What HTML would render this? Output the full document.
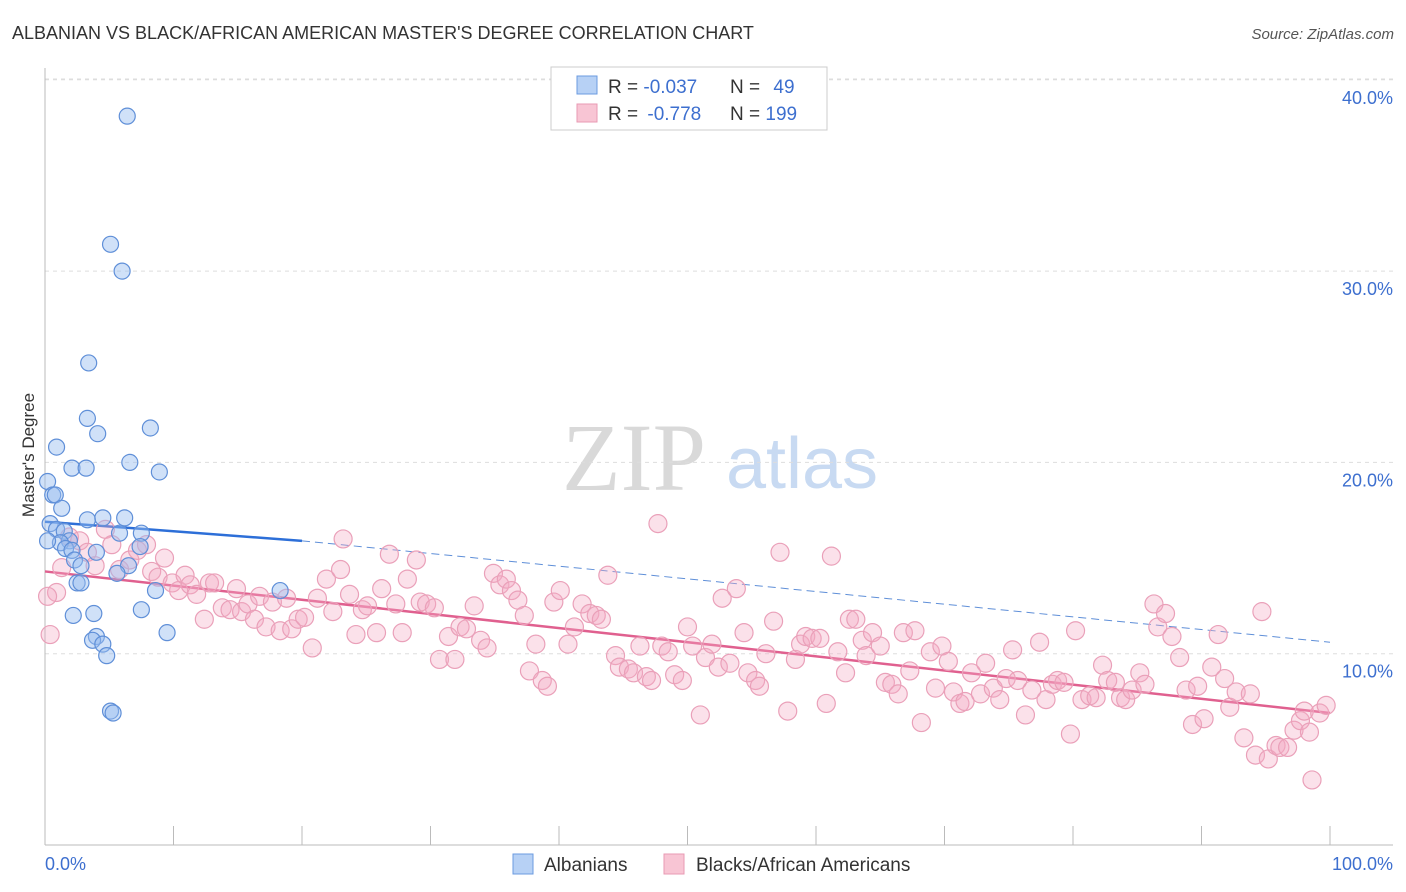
<!DOCTYPE html>
<html><head><meta charset="utf-8"><style>
body{margin:0;background:#fff;font-family:"Liberation Sans",sans-serif;}
svg{display:block}
</style></head><body>
<svg id="chart" width="1406" height="892" xmlns="http://www.w3.org/2000/svg">
<text x="12" y="39" font-size="18" fill="#333">ALBANIAN VS BLACK/AFRICAN AMERICAN MASTER'S DEGREE CORRELATION CHART</text>
<text x="1394" y="39" font-size="15" fill="#555" font-style="italic" text-anchor="end">Source: ZipAtlas.com</text>
<text x="34" y="455" font-size="17" fill="#333" text-anchor="middle" transform="rotate(-90 34 455)">Master's Degree</text>
<g>
<text x="634" y="490" font-size="96" fill="#d9d9d9" font-family="Liberation Serif,serif" text-anchor="middle">ZIP</text>
<text x="802" y="488" font-size="72" fill="#c8daf2" text-anchor="middle">atlas</text>
</g>
<g id="grid"></g>
<g id="axes"></g>
<g id="trend"></g>
<g id="pts"></g>
<g>
<rect x="551" y="67" width="276" height="63" fill="#fff" stroke="#ccc"/>
<rect x="577" y="76" width="20" height="18" fill="#b7d1f5" stroke="#6b9be0"/>
<rect x="577" y="104" width="20" height="18" fill="#f8c5d4" stroke="#e89ab3"/>
<text x="608" y="93" font-size="19" fill="#333">R = <tspan fill="#3d6fcf">-0.037</tspan></text>
<text x="730" y="93" font-size="19" fill="#333">N = <tspan fill="#3d6fcf" dx="8">49</tspan></text>
<text x="608" y="120" font-size="19" fill="#333">R = <tspan fill="#3d6fcf" dx="4">-0.778</tspan></text>
<text x="730" y="120" font-size="19" fill="#333">N = <tspan fill="#3d6fcf">199</tspan></text>
</g>
<g>
<rect x="513" y="854" width="20" height="20" fill="#b7d1f5" stroke="#6b9be0"/>
<text x="544" y="871" font-size="19" fill="#333">Albanians</text>
<rect x="664" y="854" width="20" height="20" fill="#f8c5d4" stroke="#e89ab3"/>
<text x="696" y="871" font-size="19" fill="#333">Blacks/African Americans</text>
</g>
</svg>
<script>
const yTicks=[10,20,30,40];
const yTickLabels=["10.0%","20.0%","30.0%","40.0%"];
const xTicks=[0,10,20,30,40,50,60,70,80,90,100];
const blueX=[6.4,5.1,6.0,3.4,3.3,4.1,8.2,0.9,2.1,3.2,6.6,8.9,0.2,0.6,0.8,1.3,3.3,4.5,6.2,0.4,0.9,1.5,7.5,5.8,1.9,1.2,0.2,1.6,2.1,4.0,7.4,2.3,2.8,6.5,5.6,2.5,2.8,8.6,18.3,3.8,2.2,7.5,4.0,3.7,4.5,9.5,4.8,5.1,5.3];
const blueY=[38.1,31.4,30.0,25.2,22.3,21.5,21.8,20.8,19.7,19.7,20.0,19.5,19.0,18.3,18.3,17.6,17.0,17.1,17.1,16.8,16.5,16.4,16.3,16.3,15.9,15.8,15.9,15.5,15.4,15.3,15.6,14.9,14.6,14.6,14.2,13.7,13.7,13.3,13.3,12.1,12.0,12.3,10.9,10.7,10.5,11.1,9.9,7.0,6.9];
const pinkX=[0.4,0.9,1.3,1.9,2.7,3.3,3.9,4.7,5.2,5.8,6.6,7.2,7.9,8.3,8.8,9.3,9.9,10.4,10.9,11.3,11.8,12.4,12.8,13.2,13.8,14.4,14.9,15.3,15.8,16.3,16.7,17.2,17.7,18.3,18.8,19.2,19.7,20.2,20.8,21.2,21.9,22.4,23.0,23.2,23.7,24.2,24.7,25.1,25.8,26.2,26.8,27.3,27.8,28.2,28.9,29.2,29.7,30.3,30.7,31.4,31.9,32.3,32.8,33.4,33.9,34.4,34.9,35.4,35.9,36.3,36.8,37.3,37.7,38.2,38.7,39.1,39.6,40.1,40.7,41.2,41.8,42.4,42.9,43.3,43.8,44.4,44.7,45.4,45.8,46.3,46.8,47.2,47.7,48.0,48.5,49.0,49.6,50.0,50.4,51.0,51.4,51.9,52.4,52.7,53.3,53.8,54.4,54.7,55.3,55.6,56.1,56.7,57.2,57.8,58.4,58.8,59.2,59.7,60.3,60.8,61.2,61.7,62.3,62.6,63.1,63.6,63.9,64.4,65.0,65.4,65.9,66.4,66.8,67.3,67.7,68.2,68.9,69.3,69.8,70.3,70.7,71.2,71.6,72.1,72.8,73.2,73.8,74.3,74.8,75.3,75.7,76.3,76.8,77.4,77.9,78.4,78.8,79.3,79.8,80.2,80.7,81.3,81.8,82.3,82.7,83.3,83.7,84.1,84.6,85.2,85.6,86.3,86.6,87.2,87.7,88.3,88.8,89.3,89.7,90.2,90.8,91.3,91.8,92.2,92.7,93.3,93.8,94.2,94.7,95.2,95.8,96.1,96.7,97.2,97.7,98.0,98.6,99.2,99.7,98.4,0.2];
const pinkY=[11.0,13.2,14.5,16.1,15.9,15.3,14.6,16.5,15.7,14.4,14.9,15.4,15.7,14.3,14.0,15.0,13.7,13.3,14.1,13.6,13.1,11.8,13.7,13.7,12.4,12.3,13.4,12.2,12.6,11.8,13.0,11.4,12.7,11.2,12.9,11.3,11.8,11.9,10.3,12.9,13.9,12.2,14.4,16.0,13.1,11.0,12.3,12.5,11.1,13.4,15.2,12.6,11.1,13.9,14.9,12.7,12.6,12.4,9.7,10.9,9.7,11.4,11.3,12.5,10.7,10.3,14.2,13.6,13.9,13.3,12.8,12.0,9.1,10.5,8.6,8.3,12.7,13.3,10.5,11.4,12.6,12.1,12.0,11.8,14.1,9.9,9.3,9.2,9.0,10.4,8.8,8.6,16.8,10.4,10.1,8.9,8.6,11.4,10.4,6.8,9.8,10.5,9.3,12.9,9.5,13.4,11.1,9.0,8.6,8.3,10.0,11.7,15.3,7.0,9.7,10.5,10.9,10.8,10.8,7.4,15.1,10.1,9.0,11.8,11.8,10.7,9.9,11.1,10.4,8.5,8.4,7.9,11.1,9.1,11.2,6.4,10.1,8.2,10.4,9.6,8.0,7.4,7.5,9.0,7.9,9.5,8.2,7.6,8.7,10.2,8.6,6.8,8.1,10.6,7.6,8.4,8.6,8.5,5.8,11.2,7.6,7.8,7.7,9.4,8.6,8.5,7.7,7.6,8.1,9.0,8.4,12.6,11.4,12.1,10.9,9.8,8.1,6.3,8.3,6.6,9.3,11.0,8.7,7.2,8.0,5.6,7.9,4.7,12.2,4.5,5.2,5.1,5.1,6.0,6.5,7.0,3.4,6.9,7.3,5.9,13.0];
const blueTrend=[16.9,15.9,10.6];
const pinkTrend=[14.3,6.9];
const NS="http://www.w3.org/2000/svg";
function sx(v){return 45+v*12.85;}
function sy(v){return 845-v*19.13;}
function mk(tag,attrs,parent){const e=document.createElementNS(NS,tag);for(const k in attrs)e.setAttribute(k,attrs[k]);parent.appendChild(e);return e;}
const grid=document.getElementById('grid'),axes=document.getElementById('axes'),trend=document.getElementById('trend'),pts=document.getElementById('pts');
yTicks.forEach((t,i)=>{
 const l=mk('line',{x1:45,x2:1393,y1:sy(t),y2:sy(t),stroke:'#ddd','stroke-dasharray':'4,4'},grid);
 
 
 const tx=mk('text',{x:1393,y:sy(t)+24,'font-size':18,fill:'#3d6fcf','text-anchor':'end'},axes);
 tx.textContent=yTickLabels[i];
 
 
});
const topLine=mk('line',{x1:45,x2:1393,y1:79,y2:79,stroke:'#ddd','stroke-dasharray':'4,4'},grid);


const ya=mk('line',{x1:45,x2:45,y1:68,y2:845,stroke:'#bbb'},axes);


const xa=mk('line',{x1:45,x2:1393,y1:845,y2:845,stroke:'#bbb'},axes);


xTicks.forEach(t=>{
 const l=mk('line',{x1:sx(t),x2:sx(t),y1:826,y2:845,stroke:'#bbb'},axes);
 
 
});
const xl0=mk('text',{x:45,y:870,'font-size':18,fill:'#3d6fcf'},axes);xl0.textContent='0.0%';


const xl1=mk('text',{x:1393,y:870,'font-size':18,fill:'#3d6fcf','text-anchor':'end'},axes);xl1.textContent='100.0%';


pinkX.forEach((x,i)=>{
 const c=mk('circle',{cx:sx(x),cy:sy(pinkY[i]),r:9,fill:'rgba(244,170,195,0.35)',stroke:'#eaa0b9','stroke-width':1.2},pts);
 
 
});
blueX.forEach((x,i)=>{
 const c=mk('circle',{cx:sx(x),cy:sy(blueY[i]),r:8,fill:'rgba(150,188,240,0.45)',stroke:'#5f8fd8','stroke-width':1.2},pts);
 
 
});
const pl=mk('line',{x1:sx(0),y1:sy(pinkTrend[0]),x2:sx(100),y2:sy(pinkTrend[1]),stroke:'#e0608f','stroke-width':2.5},trend);


const bl=mk('line',{x1:sx(0),y1:sy(blueTrend[0]),x2:sx(20),y2:sy(blueTrend[1]),stroke:'#2d6fd8','stroke-width':2.5},trend);


const bd=mk('line',{x1:sx(20),y1:sy(blueTrend[1]),x2:sx(100),y2:sy(blueTrend[2]),stroke:'#5f8fd8','stroke-width':1,'stroke-dasharray':'8,5'},trend);


</script>
</body></html>
